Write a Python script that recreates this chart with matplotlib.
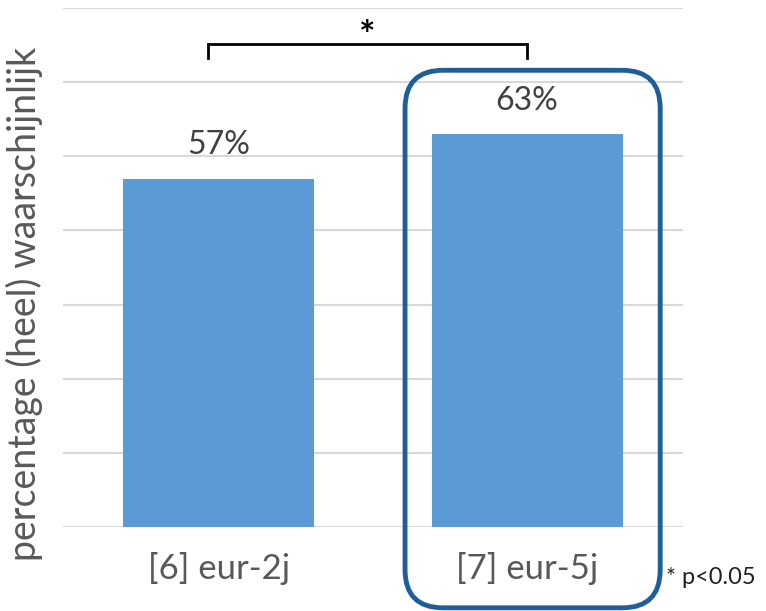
import matplotlib
matplotlib.use("Agg")
import matplotlib.pyplot as plt
from matplotlib.patches import FancyBboxPatch
from matplotlib.transforms import IdentityTransform

categories = ["[6] eur-2j", "[7] eur-5j"]
values = [57, 63]
value_labels = ["57%", "63%"]
y_ticks = [10, 20, 30, 40, 50, 60, 70, 80]

plt.rcParams["font.family"] = ["Lato", "DejaVu Sans"]

fig = plt.figure(figsize=(7.66, 6.11), dpi=100)
W, H = 766, 611
ax = fig.add_axes([63 / W, 1 - 527 / H, 620 / W, 519 / H])

x = range(len(categories))
ax.bar(x, [v - y_ticks[0] for v in values], bottom=y_ticks[0], width=0.62,
       color="#5B9BD5", zorder=2)

for xi, v, lab in zip(x, values, value_labels):
    ax.text(xi, v + 2.5, lab, ha="center", va="bottom", fontsize=23,
            color="#404040")

ax.set_xlim(-0.506, 1.506)
ax.set_ylim(y_ticks[0], y_ticks[-1])
ax.set_yticks(y_ticks)
ax.yaxis.grid(True, color="#D9D9D9", linewidth=1.5, zorder=0)
ax.tick_params(axis="y", length=0, labelleft=False)
ax.tick_params(axis="x", length=0, pad=18, labelsize=25, labelcolor="#595959")
ax.set_xticks(list(x))
ax.set_xticklabels(categories)
for s in ax.spines.values():
    s.set_visible(False)

ax.set_ylabel("percentage (heel) waarschijnlijk", fontsize=27, color="#595959")
ax.yaxis.set_label_coords(-0.033, 0.43)

# significance bracket
ax.plot([-0.035, -0.035, 1.0, 1.0], [73.2, 75.2, 75.2, 73.2], color="black",
        linewidth=2, clip_on=False, solid_joinstyle="miter")
ax.text(0.48, 76.2, "*", ha="center", va="center", fontsize=28,
        fontweight="bold", color="black")

# rounded highlight box around second bar
fig.canvas.draw()
x0, y0 = ax.transData.transform((0.604, -0.9))
x1, y1 = ax.transData.transform((1.432, 71.6))
box = FancyBboxPatch((x0, y0), x1 - x0, y1 - y0,
                     boxstyle="round,pad=0,rounding_size=38",
                     transform=IdentityTransform(), fill=False,
                     edgecolor="#1F5F99", linewidth=3.5, clip_on=False)
fig.add_artist(box)

fig.text(666 / W, 1 - 578 / H, "* p<0.05", fontsize=17, color="#202020",
         va="center", ha="left")

fig.savefig("out.png", dpi=100)
